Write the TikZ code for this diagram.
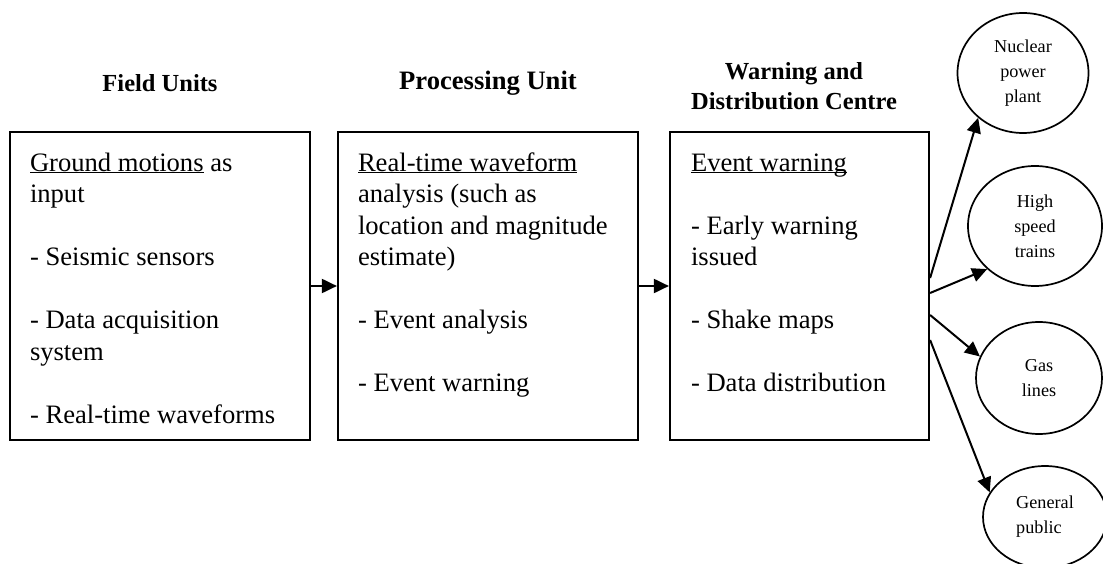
\documentclass[tikz,border=0pt]{standalone}
\usepackage{fontspec}
\setmainfont{Liberation Serif}
\usetikzlibrary{arrows.meta,shapes.geometric}

\newcommand{\ulword}[1]{\underline{\smash{#1}}}
\newcommand{\boxtext}[2]{\parbox[c][274pt][t]{#1}{\raggedright\fontsize{26.6}{31.5}\selectfont\strut #2}}

\begin{document}
\begin{tikzpicture}[x=1pt, y=-1pt,
			unitbox/.style={draw, line width=2.2pt, minimum height=308pt, inner sep=0pt},
			heading/.style={font=\bfseries\fontsize{24.5}{30}\selectfont, align=center},
			client/.style={ellipse, draw, line width=1.7pt, inner sep=0pt, font=\fontsize{18.2}{25}\selectfont, align=center},
			myarrow/.style={-{Triangle[length=15pt,width=14pt]}, line width=2pt, black}
			]
			\useasboundingbox (0,0) rectangle (1103,564);
			% headings
			\node[heading] (fieldhead) at (160,83) {Field Units};
			\node[heading, font=\bfseries\fontsize{26.6}{31}\selectfont] (prochead) at (488,83) {Processing Unit};
			\node[heading] (warnhead) at (794,86) {Warning and\\Distribution Centre};
			% the three units
			\node[unitbox, minimum width=300pt] (field) at (160,286) {\boxtext{260pt}{\ulword{Ground motions} as\\ input\\[31.5pt] - Seismic sensors\\[31.5pt] - Data acquisition\\ system\\[31.5pt] - Real-time waveforms}};
			\node[unitbox, minimum width=300pt] (proc) at (488,286) {\boxtext{260pt}{\ulword{Real-time waveform}\\ analysis (such as\\ location and magnitude\\ estimate)\\[31.5pt] - Event analysis\\[31.5pt] - Event warning}};
			\node[unitbox, minimum width=259pt] (dist) at (799.5,286) {\boxtext{217pt}{\ulword{Event warning}\\[31.5pt] - Early warning\\ issued\\[31.5pt] - Shake maps\\[31.5pt] - Data distribution}};
			% users
			\node[client, minimum width=131pt, minimum height=120pt] (nuclear) at (1023,73) {Nuclear\\power\\plant};
			\node[client, minimum width=134pt, minimum height=120pt] (trains) at (1035,226) {High\\speed\\trains};
			\node[client, minimum width=126pt, minimum height=112pt] (gas) at (1039,378) {Gas\\lines};
			\node[client, minimum width=124pt, minimum height=102pt, align=left] (public) at (1045,517) {General\\public};
			\draw[myarrow] (field) -- (proc);
			\draw[myarrow] (proc) -- (dist);
			\draw[myarrow] ([yshift=8pt]dist.east) -- (nuclear.225);
			\draw[myarrow] ([yshift=-7pt]dist.east) -- (trains.222);
			\draw[myarrow] ([yshift=-29pt]dist.east) -- (gas.160);
			\draw[myarrow] ([yshift=-54pt]dist.east) -- (public.156);
		\end{tikzpicture}
\end{document}
